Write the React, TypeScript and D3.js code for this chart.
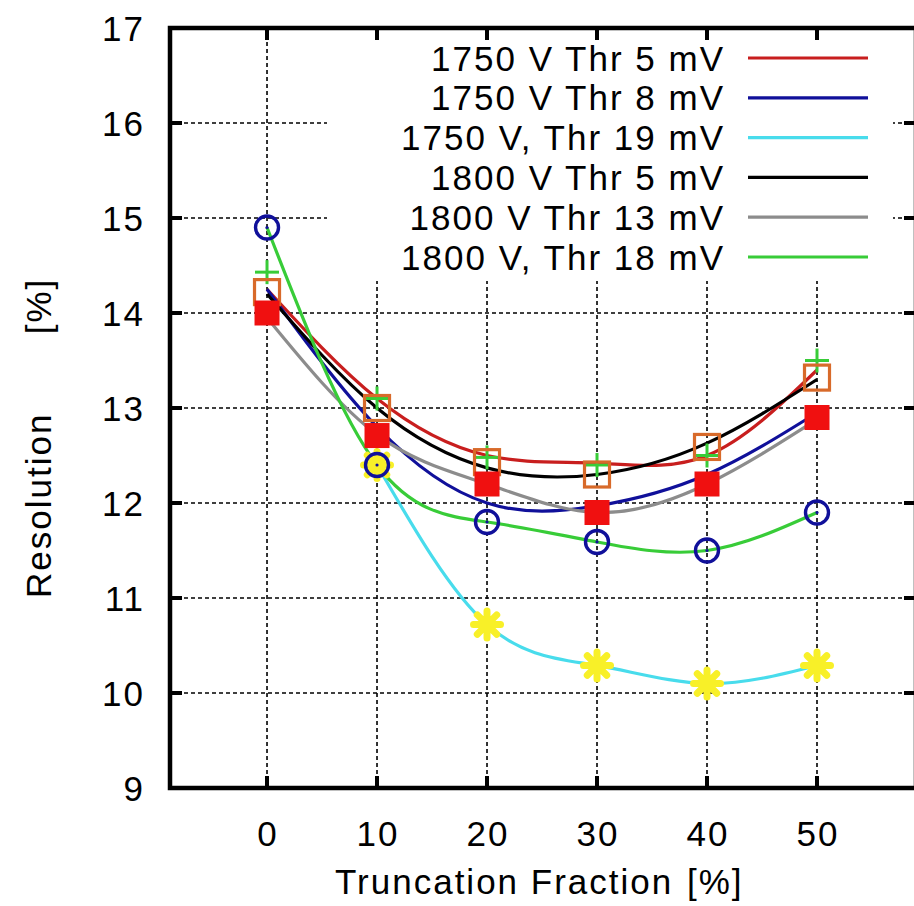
import React from 'react';
import * as d3 from 'd3';

const fractions = [0, 10, 20, 30, 40, 50];
const xTicks = [0, 10, 20, 30, 40, 50];
const yTicks = [9, 10, 11, 12, 13, 14, 15, 16, 17];
const gridY = [10, 11, 12, 13, 14, 15, 16];

const seriesNames = [
  '1750 V Thr 5 mV',
  '1750 V Thr 8 mV',
  '1750 V, Thr 19 mV',
  '1800 V Thr 5 mV',
  '1800 V Thr 13 mV',
  '1800 V, Thr 18 mV',
];
const seriesColors = ['#c81e1e', '#10109a', '#48dcec', '#000000', '#8c8c8c', '#38cc38'];

const line1750Thr5: (number | null)[] = [14.25, 13.1, 12.5, 12.42, 12.5, 13.4];
const line1750Thr8: (number | null)[] = [14.25, 12.8, 12.0, 11.97, 12.3, 12.95];
const line1750Thr19: (number | null)[] = [null, 12.4, 10.72, 10.29, 10.1, 10.29];
const line1800Thr5: (number | null)[] = [14.2, 13.0, 12.37, 12.3, 12.63, 13.3];
const line1800Thr13: (number | null)[] = [13.95, 12.72, 12.2, 11.9, 12.2, 12.88];
const line1800Thr18: (number | null)[] = [14.9, 12.4, 11.8, 11.59, 11.5, 11.9];
const seriesLines = [line1750Thr5, line1750Thr8, line1750Thr19, line1800Thr5, line1800Thr13, line1800Thr18];

const openSquarePts = [14.22, 13.0, 12.43, 12.3, 12.59, 13.32];
const filledSquarePts = [14.0, 12.71, 12.2, 11.9, 12.2, 12.9];
const circlePts = [14.9, 12.4, 11.8, 11.59, 11.5, 11.9];
const plusPts = [14.43, 13.1, 12.48, 12.4, 12.5, 13.5];
const starPts: (number | null)[] = [null, 12.4, 10.72, 10.29, 10.1, 10.29];

const W = 914;
const H = 906;
const left = 170, right = 916, top = 28, bottom = 788;

const x = d3.scaleLinear().domain([-8.82, 59]).range([left, right]);
const y = d3.scaleLinear().domain([9, 17]).range([bottom, top]);

const FONT = '"Liberation Sans", Arial, Helvetica, sans-serif';
const LS = 2;

export default function App() {
  const lineFor = (vals: (number | null)[]) => {
    const pts = vals
      .map((v, i) => (v == null ? null : ([fractions[i], v] as [number, number])))
      .filter((p): p is [number, number] => p !== null);
    return (
      d3
        .line<[number, number]>()
        .x((p) => x(p[0]))
        .y((p) => y(p[1]))
        .curve(d3.curveNatural)(pts) || ''
    );
  };

  const legendX0 = 327, legendX1 = 893, legendY0 = 31, legendY1 = 281;
  const legendRowY = (i: number) => 58 + i * 39.8;

  const starPath = (cx: number, cy: number, r: number) => {
    const d = r * 0.72;
    return `M${cx - r},${cy}L${cx + r},${cy}M${cx},${cy - r}L${cx},${cy + r}M${cx - d},${cy - d}L${cx + d},${cy + d}M${cx - d},${cy + d}L${cx + d},${cy - d}`;
  };

  return (
    <svg width={W} height={H} style={{ position: 'absolute', left: 0, top: 0, background: '#fff' }}>
      <rect x={0} y={0} width={W} height={H} fill="#fff" />
      {/* grid */}
      <g stroke="#000" strokeWidth={1.6} strokeDasharray="4,3">
        {xTicks.map((t) => (
          <line key={'gx' + t} x1={x(t)} x2={x(t)} y1={top} y2={bottom} />
        ))}
        {gridY.map((t) => (
          <line key={'gy' + t} x1={left} x2={right} y1={y(t)} y2={y(t)} />
        ))}
      </g>
      {/* legend background */}
      <rect x={legendX0} y={legendY0} width={legendX1 - legendX0} height={legendY1 - legendY0} fill="#fff" />
      {/* lines */}
      <g fill="none" strokeWidth={3.2} strokeLinejoin="round">
        {seriesLines.map((vals, i) => (
          <path key={'l' + i} d={lineFor(vals)} stroke={seriesColors[i]} />
        ))}
      </g>
      {/* yellow stars */}
      <g stroke="#f8f028" strokeWidth={7} strokeLinecap="round" fill="none">
        {starPts.map((v, i) =>
          v == null ? null : <path key={'s' + i} d={starPath(x(fractions[i]), y(v), 13.5)} />
        )}
      </g>
      {/* blue circles */}
      <g stroke="#10109a" strokeWidth={3.4} fill="none">
        {circlePts.map((v, i) => (
          <circle key={'c' + i} cx={x(fractions[i])} cy={y(v)} r={11.5} />
        ))}
      </g>
      <g fill="#10109a">
        {circlePts.map((v, i) => (
          <circle key={'cd' + i} cx={x(fractions[i])} cy={y(v)} r={1.6} />
        ))}
      </g>
      {/* green pluses */}
      <g stroke="#38cc38" strokeWidth={3}>
        {plusPts.map((v, i) => {
          const cx = x(fractions[i]);
          const cy = y(v);
          return (
            <g key={'p' + i}>
              <line x1={cx - 12} x2={cx + 12} y1={cy} y2={cy} />
              <line x1={cx} x2={cx} y1={cy - 12} y2={cy + 12} />
            </g>
          );
        })}
      </g>
      {/* orange open squares */}
      <g stroke="#d86a2a" strokeWidth={3.2} fill="none">
        {openSquarePts.map((v, i) => (
          <rect key={'o' + i} x={x(fractions[i]) - 12.5} y={y(v) - 12.5} width={25} height={25} />
        ))}
      </g>
      {/* red filled squares */}
      <g fill="#f01010">
        {filledSquarePts.map((v, i) => (
          <rect key={'f' + i} x={x(fractions[i]) - 12.5} y={y(v) - 12.5} width={25} height={25} />
        ))}
      </g>
      {/* legend */}
      <g fontFamily={FONT} fontSize={35} letterSpacing={LS}>
        {seriesNames.map((n, i) => (
          <g key={'lg' + i}>
            <text x={725} y={legendRowY(i)} dy="0.36em" textAnchor="end" fill="#000" style={{ whiteSpace: 'pre' }}>
              {n}
            </text>
            <line x1={748} x2={868} y1={legendRowY(i)} y2={legendRowY(i)} stroke={seriesColors[i]} strokeWidth={3.2} />
          </g>
        ))}
      </g>
      {/* ticks */}
      <g stroke="#000" strokeWidth={4}>
        {xTicks.map((t) => (
          <g key={'xt' + t}>
            <line x1={x(t)} x2={x(t)} y1={bottom} y2={bottom - 12} />
            <line x1={x(t)} x2={x(t)} y1={top} y2={top + 12} />
          </g>
        ))}
        {gridY.map((t) => (
          <g key={'yt' + t}>
            <line x1={left} x2={left + 12} y1={y(t)} y2={y(t)} />
            <line x1={right} x2={right - 12} y1={y(t)} y2={y(t)} />
          </g>
        ))}
      </g>
      {/* border */}
      <rect x={left} y={top} width={right - left} height={bottom - top} fill="none" stroke="#000" strokeWidth={4.5} />
      {/* tick labels */}
      <g fontFamily={FONT} fontSize={35} fill="#000" letterSpacing={LS}>
        {yTicks.map((t) => (
          <text key={'yl' + t} x={145} y={y(t)} dy="0.36em" textAnchor="end">
            {t}
          </text>
        ))}
        {xTicks.map((t) => (
          <text key={'xl' + t} x={x(t) + 1} y={846} textAnchor="middle">
            {t}
          </text>
        ))}
        <text x={335} y={894} textAnchor="start">
          Truncation Fraction
        </text>
        <text x={687} y={894} textAnchor="start">
          [%]
        </text>
        <text transform={`translate(51, 598) rotate(-90)`} textAnchor="start">
          Resolution
        </text>
        <text transform={`translate(51, 306) rotate(-90)`} textAnchor="middle">
          [%]
        </text>
      </g>
    </svg>
  );
}
